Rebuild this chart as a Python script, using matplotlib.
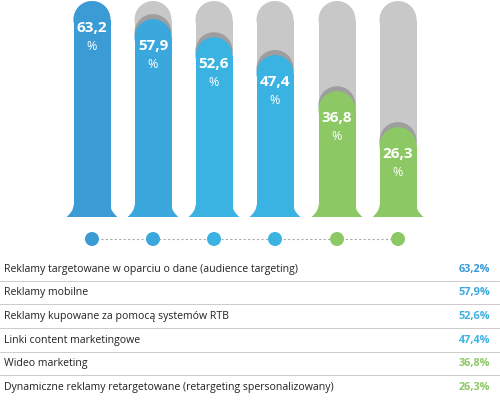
import matplotlib
matplotlib.use("Agg")
import matplotlib.pyplot as plt
from matplotlib.patches import Rectangle, Circle, Polygon

labels = ["Reklamy targetowane w oparciu o dane (audience targeting)",
          "Reklamy mobilne",
          "Reklamy kupowane za pomocą systemów RTB",
          "Linki content marketingowe",
          "Wideo marketing",
          "Dynamiczne reklamy retargetowane (retargeting spersonalizowany)"]
values = [63.2, 57.9, 52.6, 47.4, 36.8, 26.3]
colors = ["#3a9bd5", "#3ba8dd", "#3bb3e2", "#3bb3e2", "#8cc864", "#8cc864"]

plt.rcParams['font.family'] = ['Open Sans', 'DejaVu Sans']
fig = plt.figure(figsize=(5, 4.06), dpi=100)
ax = fig.add_axes([0, 0, 1, 1])
ax.set_xlim(0, 500); ax.set_ylim(406, 0); ax.axis('off')

centers = [92, 153, 214, 275, 337, 398]
r = 18.5
yb = 218
k = (yb - 2) / max(values)

def flare(cx, col):
    pts = [(cx - r, yb - 12)]
    for i in range(1, 9):
        t = i / 8
        pts.append((cx - r - 7 * t**2, yb - 12 + 12 * t))
    pts += [(cx + r + 7, yb)]
    for i in range(8, -1, -1):
        t = i / 8
        pts.append((cx + r + 7 * t**2, yb - 12 + 12 * t))
    ax.add_patch(Polygon(pts, closed=True, color=col, lw=0))

for cx, v, c in zip(centers, values, colors):
    top = yb - v * k
    # gray background
    ax.add_patch(Rectangle((cx - r, 2 + r), 2 * r, yb - 2 - r, color="#c8c8c8", lw=0))
    ax.add_patch(Circle((cx, 2 + r), r, color="#c8c8c8", lw=0))
    if v < max(values):
        ax.add_patch(Circle((cx, top + r - 5), r, color="#9e9e9e", lw=0))
    ax.add_patch(Rectangle((cx - r, top + r), 2 * r, yb - top - r, color=c, lw=0))
    ax.add_patch(Circle((cx, top + r), r, color=c, lw=0))
    flare(cx, c)
    ax.text(cx, top + 26, f"{v:.1f}".replace(".", ","), color="white", fontsize=11,
            fontweight="bold", ha="center", va="center")
    ax.text(cx, top + 44, "%", color="white", fontsize=9, ha="center", va="center")

ax.plot([centers[0], centers[-1]], [240, 240], ls=(0, (2, 2)), color="#aaaaaa", lw=0.8, zorder=1)
for cx, c in zip(centers, colors):
    ax.add_patch(Circle((cx, 240), 7, color=c, lw=0, zorder=2))

row_y = [270, 293, 317, 341, 364, 388]
for i, (lab, v, c) in enumerate(zip(labels, values, colors)):
    y = row_y[i]
    ax.text(4, y, lab, fontsize=7.6, color="#222222", va="center", ha="left")
    ax.text(490, y, f"{v:.1f}".replace(".", ",") + "%", fontsize=7.8, color=c,
            fontweight="bold", va="center", ha="right")
    if i < len(labels) - 1:
        ax.plot([0, 500], [y + 11.5, y + 11.5], color="#cccccc", lw=0.7)

fig.savefig("out.png", dpi=100)
